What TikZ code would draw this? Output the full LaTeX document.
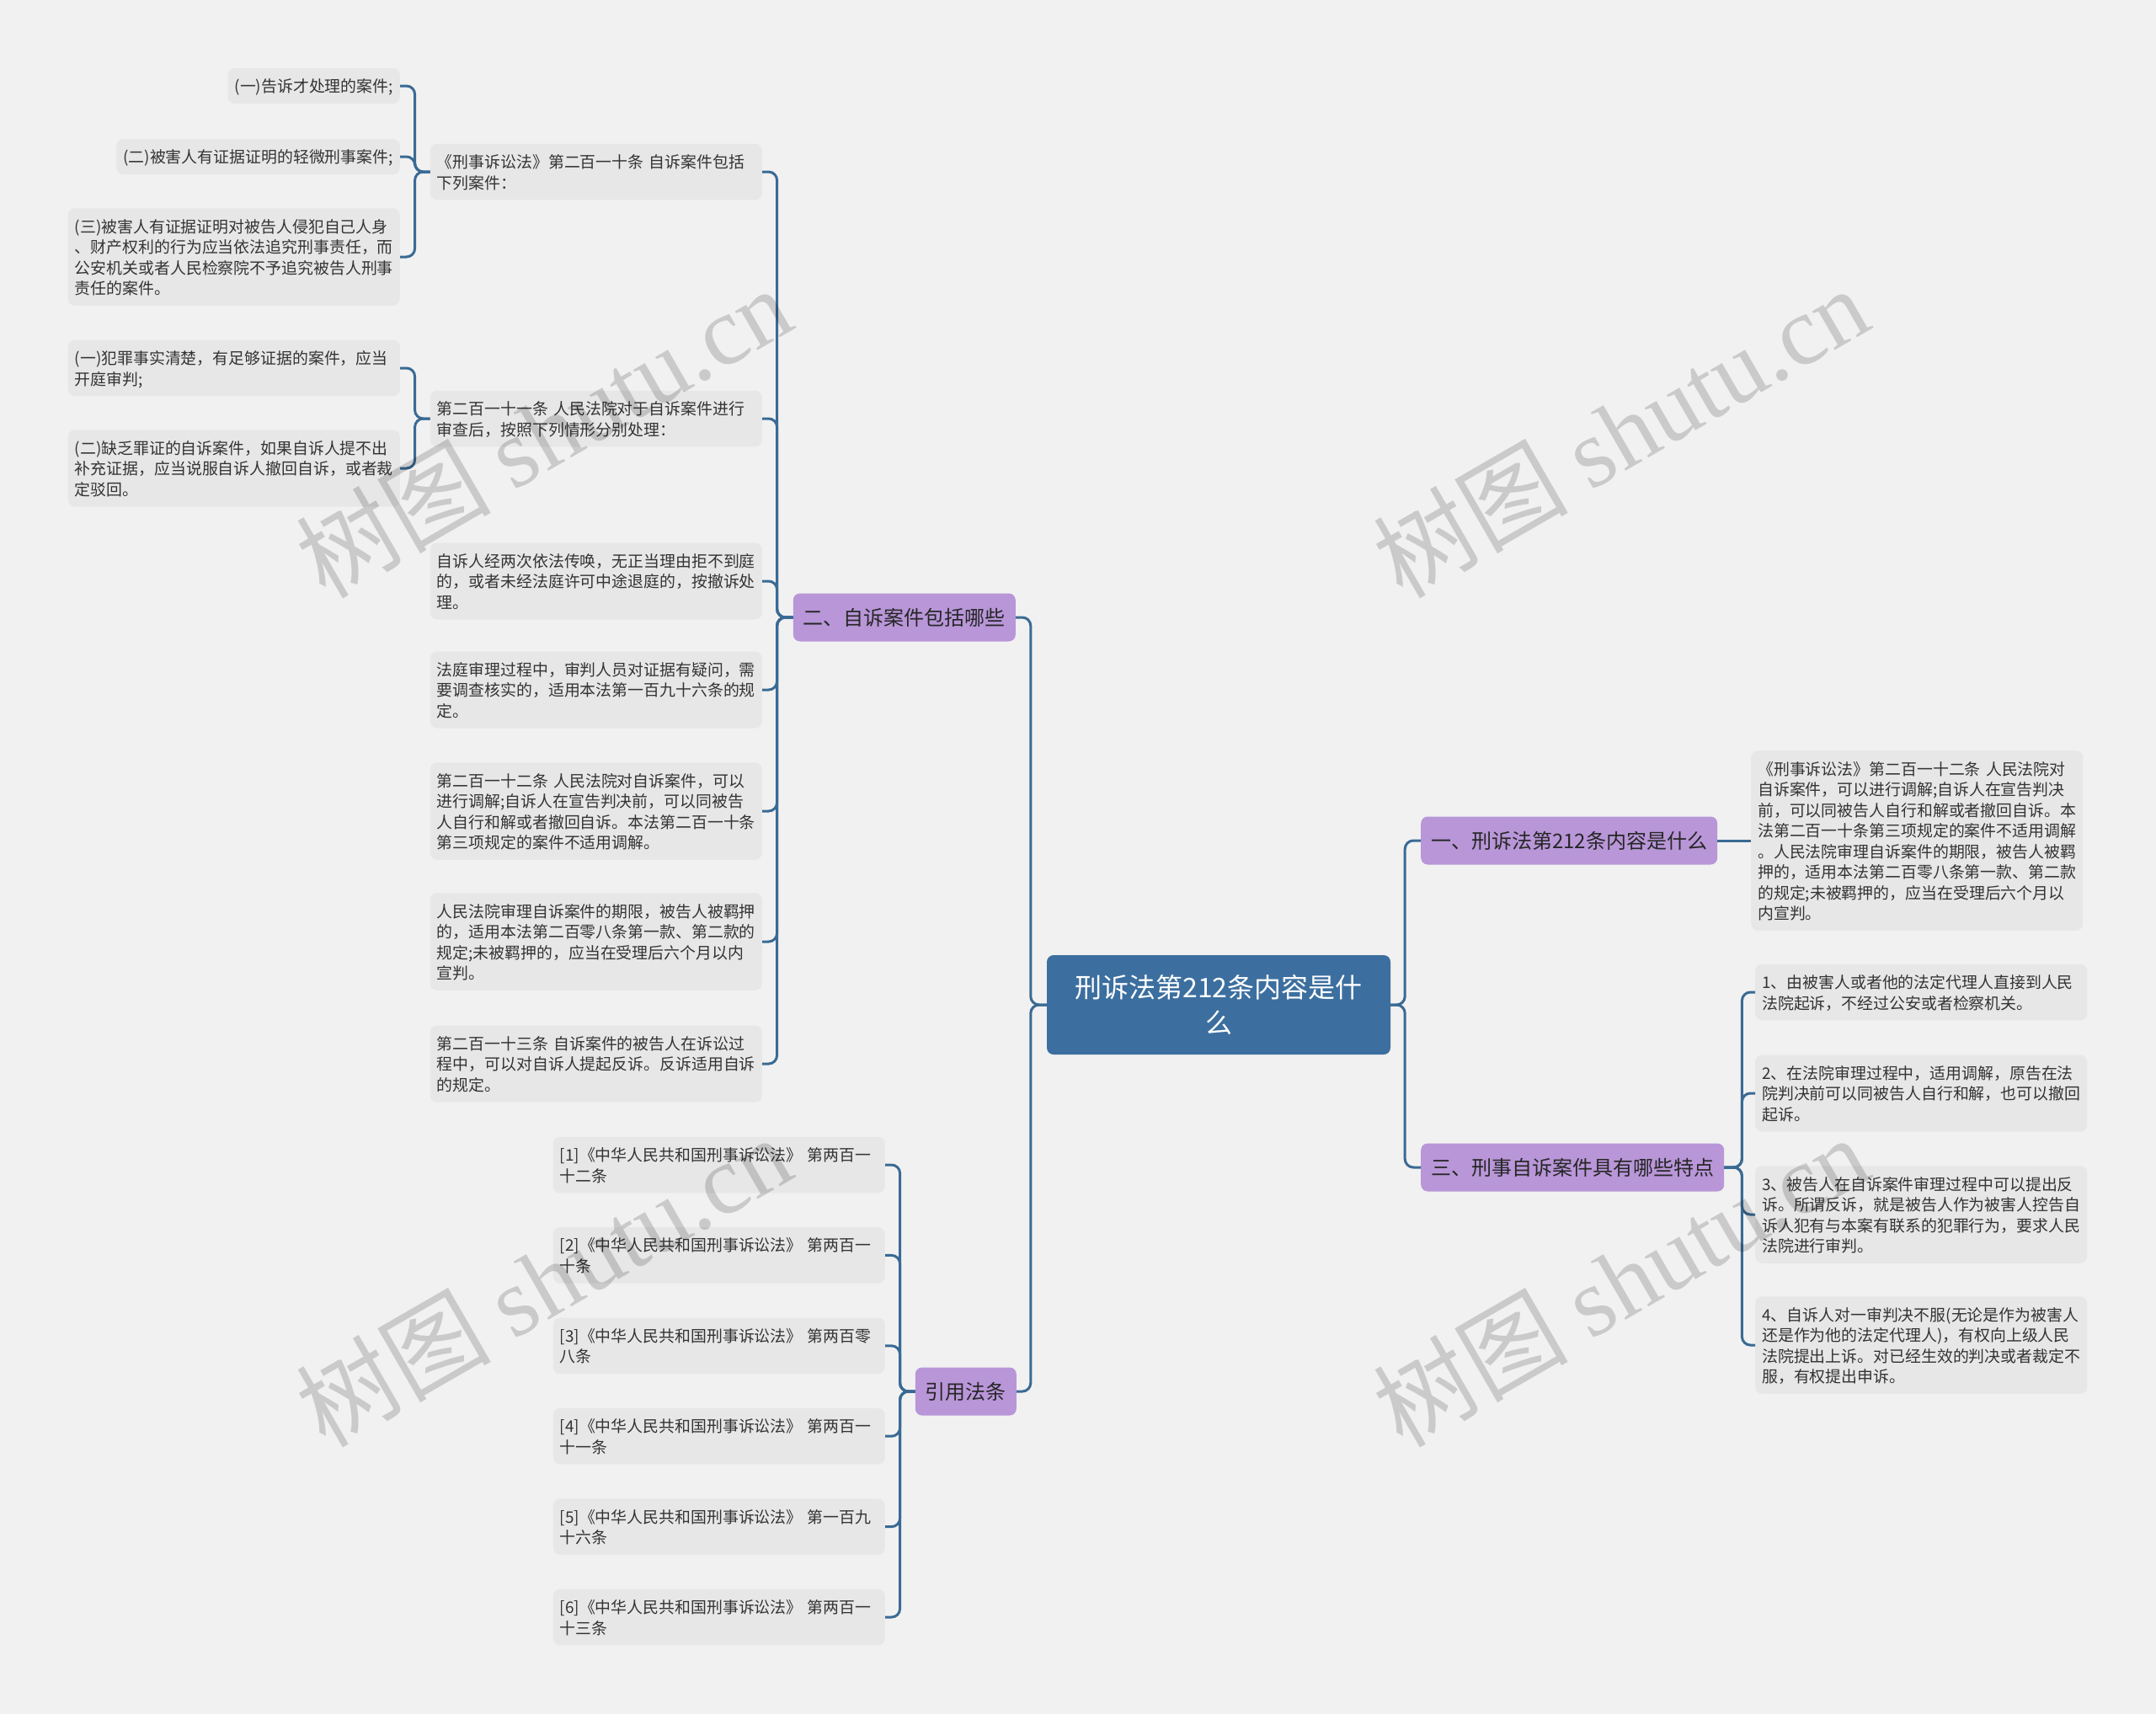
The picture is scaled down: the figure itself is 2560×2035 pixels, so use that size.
\documentclass[tikz,border=0pt]{standalone}
\usepackage{fontspec}
\setmainfont{Noto Sans CJK SC}
\newfontfamily\wmfont{Liberation Serif}

\definecolor{bgcol}{HTML}{F1F1F1}
\definecolor{leafcol}{HTML}{E7E7E7}
\definecolor{topiccol}{HTML}{B896D8}
\definecolor{rootcol}{HTML}{3C6F9F}
\definecolor{linkcol}{HTML}{3A6A94}
\definecolor{textcol}{HTML}{333333}

\tikzset{
    link/.style = {draw = linkcol, line width = 3pt, rounded corners = 10pt},
    leaf/.style = {fill = leafcol, rounded corners = 8pt, text = textcol, font = \fontsize{18.9}{24.5}\selectfont,
        align = left, text width = 378pt, inner xsep = 8pt, inner ysep = 8.75pt,
        execute at begin node = \rule{0pt}{20pt}, execute at end node = \rule[-4.5pt]{0pt}{4.5pt}},
    tag/.style = {leaf, text width = {}},
    topic/.style = {fill = topiccol, rounded corners = 8pt, text = black!85, font = \fontsize{24}{30}\selectfont,
        inner xsep = 12pt, minimum height = 57pt},
    root/.style = {fill = rootcol, rounded corners = 8pt, text = white, font = \fontsize{32}{42}\selectfont,
        align = center, minimum width = 408pt, minimum height = 118pt},
    wm/.style = {text = black, text opacity = 0.16, rotate = 30, font = \fontsize{116}{116}\selectfont}
}

\begin{document}
\begin{tikzpicture}[x = 1pt, y = -1pt]
    \useasboundingbox (0, 0) rectangle (2560, 2035);
    \fill[bgcol] (0, 0) rectangle (2560, 2035);

    \node[root] (root) at (1447, 1193) {刑诉法第212条内容是什\\么};

    % topics
    \node[topic, anchor = west] (c1) at (1687, 998) {一、刑诉法第212条内容是什么};
    \node[topic, anchor = west] (c3) at (1687, 1386) {三、刑事自诉案件具有哪些特点};
    \node[topic, anchor = east] (c2) at (1206, 733) {二、自诉案件包括哪些};
    \node[topic, anchor = east] (cref) at (1207, 1652) {引用法条};

    \draw[link] (root.west) -- ++(-19, 0) |- (c2.east);
    \draw[link] (root.west) -- ++(-19, 0) |- (cref.east);
    \draw[link] (root.east) -- ++(17, 0) |- (c1.west);
    \draw[link] (root.east) -- ++(17, 0) |- (c3.west);

    % right side
    \node[leaf, anchor = west] (r1) at (2079, 998) {《刑事诉讼法》第二百一十二条 人民法院对\\自诉案件，可以进行调解;自诉人在宣告判决\\前，可以同被告人自行和解或者撤回自诉。本\\法第二百一十条第三项规定的案件不适用调解\\。人民法院审理自诉案件的期限，被告人被羁\\押的，适用本法第二百零八条第一款、第二款\\的规定;未被羁押的，应当在受理后六个月以\\内宣判。};
    \draw[link] (c1.east) -- (r1.west);

    \node[leaf, anchor = west] (t1) at (2084, 1178) {1、由被害人或者他的法定代理人直接到人民\\法院起诉，不经过公安或者检察机关。};
    \node[leaf, anchor = west] (t2) at (2084, 1298) {2、在法院审理过程中，适用调解，原告在法\\院判决前可以同被告人自行和解，也可以撤回\\起诉。};
    \node[leaf, anchor = west] (t3) at (2084, 1442) {3、被告人在自诉案件审理过程中可以提出反\\诉。所谓反诉，就是被告人作为被害人控告自\\诉人犯有与本案有联系的犯罪行为，要求人民\\法院进行审判。};
    \node[leaf, anchor = west] (t4) at (2084, 1597) {4、自诉人对一审判决不服(无论是作为被害人\\还是作为他的法定代理人)，有权向上级人民\\法院提出上诉。对已经生效的判决或者裁定不\\服，有权提出申诉。};
    \foreach \t in {t1, t2, t3, t4}{
        \draw[link] (c3.east) -- ++(21, 0) |- (\t.west);
    }

    % left side
    \node[leaf, anchor = east] (s1) at (905, 204) {《刑事诉讼法》第二百一十条 自诉案件包括\\下列案件：};
    \node[leaf, anchor = east] (s2) at (905, 497) {第二百一十一条 人民法院对于自诉案件进行\\审查后，按照下列情形分别处理：};
    \node[leaf, anchor = east] (s3) at (905, 690) {自诉人经两次依法传唤，无正当理由拒不到庭\\的，或者未经法庭许可中途退庭的，按撤诉处\\理。};
    \node[leaf, anchor = east] (s4) at (905, 819) {法庭审理过程中，审判人员对证据有疑问，需\\要调查核实的，适用本法第一百九十六条的规\\定。};
    \node[leaf, anchor = east] (s5) at (905, 963) {第二百一十二条 人民法院对自诉案件，可以\\进行调解;自诉人在宣告判决前，可以同被告\\人自行和解或者撤回自诉。本法第二百一十条\\第三项规定的案件不适用调解。};
    \node[leaf, anchor = east] (s6) at (905, 1118) {人民法院审理自诉案件的期限，被告人被羁押\\的，适用本法第二百零八条第一款、第二款的\\规定;未被羁押的，应当在受理后六个月以内\\宣判。};
    \node[leaf, anchor = east] (s7) at (905, 1263) {第二百一十三条 自诉案件的被告人在诉讼过\\程中，可以对自诉人提起反诉。反诉适用自诉\\的规定。};
    \foreach \s in {s1, s2, s3, s4, s5, s6, s7}{
        \draw[link] (c2.west) -- ++(-19, 0) |- (\s.east);
    }

    \node[tag, anchor = east] (s1a) at (475, 102) {(一)告诉才处理的案件;};
    \node[tag, anchor = east] (s1b) at (475, 186) {(二)被害人有证据证明的轻微刑事案件;};
    \node[leaf, anchor = east] (s1c) at (475, 305) {(三)被害人有证据证明对被告人侵犯自己人身\\、财产权利的行为应当依法追究刑事责任，而\\公安机关或者人民检察院不予追究被告人刑事\\责任的案件。};
    \foreach \s in {s1a, s1b, s1c}{
        \draw[link] (s1.west) -- ++(-18, 0) |- (\s.east);
    }

    \node[leaf, anchor = east] (s2a) at (475, 437) {(一)犯罪事实清楚，有足够证据的案件，应当\\开庭审判;};
    \node[leaf, anchor = east] (s2b) at (475, 556) {(二)缺乏罪证的自诉案件，如果自诉人提不出\\补充证据，应当说服自诉人撤回自诉，或者裁\\定驳回。};
    \foreach \s in {s2a, s2b}{
        \draw[link] (s2.west) -- ++(-18, 0) |- (\s.east);
    }

    % cited articles
    \foreach \i/\a/\b in {1/第两百一/十二条, 2/第两百一/十条, 3/第两百零/八条, 4/第两百一/十一条, 5/第一百九/十六条, 6/第两百一/十三条}{
        \node[leaf, anchor = east] (ref\i) at (1051, {1383 + 107.4*(\i - 1)}) {[\i]《中华人民共和国刑事诉讼法》 \a\\\b};
        \draw[link] (cref.west) -- ++(-18, 0) |- (ref\i.east);
    }

    % watermark
    \node[wm] (wm1) at (645, 512) {树图 {\wmfont shutu.cn}};
    \node[wm] (wm2) at (1924, 512) {树图 {\wmfont shutu.cn}};
    \node[wm] (wm3) at (645, 1520) {树图 {\wmfont shutu.cn}};
    \node[wm] (wm4) at (1924, 1520) {树图 {\wmfont shutu.cn}};
\end{tikzpicture}
\end{document}
